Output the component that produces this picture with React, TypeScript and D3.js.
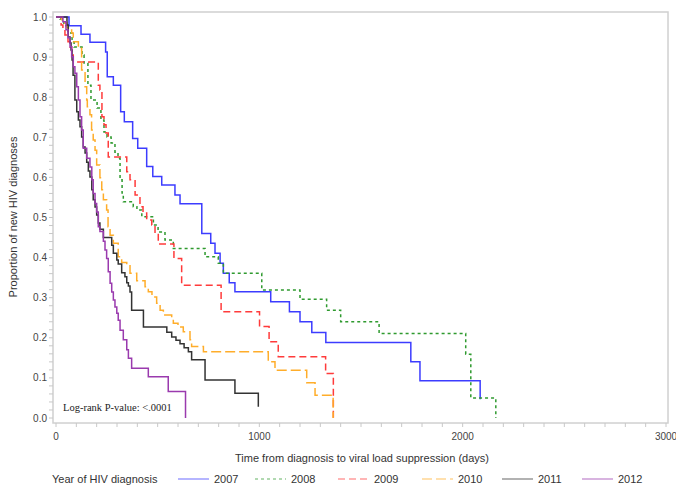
import React from 'react';
import * as d3 from 'd3';

// Kaplan-Meier steps: [days, proportion remaining after the step]
const km2007: [number, number][] = [
  [0, 1], [64, 0.978], [123, 0.957], [167, 0.937], [244, 0.913], [252, 0.851], [282, 0.83],
  [318, 0.764], [336, 0.739], [377, 0.697], [402, 0.673], [446, 0.627], [476, 0.602],
  [520, 0.581], [585, 0.556], [610, 0.534], [717, 0.46], [761, 0.436], [782, 0.411],
  [807, 0.386], [823, 0.361], [852, 0.337], [880, 0.315], [1056, 0.29], [1148, 0.265],
  [1200, 0.24], [1258, 0.213], [1327, 0.188], [1745, 0.14], [1790, 0.093], [2086, 0.047],
];
const km2008: [number, number][] = [
  [0, 1], [20, 0.995], [39, 0.978], [59, 0.96], [79, 0.938], [89, 0.925], [128, 0.905],
  [138, 0.885], [157, 0.83], [172, 0.793], [202, 0.773], [221, 0.743], [236, 0.713],
  [251, 0.701], [271, 0.686], [290, 0.663], [305, 0.648], [315, 0.594], [325, 0.561],
  [331, 0.539], [380, 0.527], [398, 0.519], [422, 0.502], [479, 0.481], [502, 0.464],
  [536, 0.444], [577, 0.423], [733, 0.402], [798, 0.386], [823, 0.361], [1012, 0.319],
  [1200, 0.296], [1331, 0.269], [1400, 0.24], [1589, 0.211], [2015, 0.159], [2040, 0.05],
  [2163, 0],
];
const km2009: [number, number][] = [
  [0, 1], [25, 0.98], [34, 0.968], [44, 0.955], [59, 0.938], [69, 0.925], [77, 0.905],
  [85, 0.888], [208, 0.83], [216, 0.818], [226, 0.751], [236, 0.731], [246, 0.711],
  [257, 0.651], [348, 0.614], [364, 0.594], [389, 0.556], [413, 0.527], [428, 0.511],
  [446, 0.494], [471, 0.481], [487, 0.46], [503, 0.434], [580, 0.398], [618, 0.331],
  [812, 0.265], [1001, 0.228], [1048, 0.19], [1093, 0.153], [1326, 0.111], [1364, 0],
];
const km2010: [number, number][] = [
  [0, 1], [28, 0.993], [36, 0.985], [54, 0.973], [77, 0.96], [85, 0.938], [110, 0.922],
  [126, 0.868], [143, 0.826], [151, 0.793], [154, 0.776], [167, 0.756], [175, 0.718],
  [183, 0.693], [192, 0.668], [200, 0.631], [216, 0.599], [225, 0.569], [233, 0.544],
  [249, 0.519], [256, 0.477], [266, 0.456], [282, 0.436], [306, 0.402], [323, 0.388],
  [348, 0.382], [364, 0.361], [397, 0.342], [438, 0.327], [454, 0.315], [472, 0.302],
  [495, 0.286], [512, 0.269], [528, 0.257], [569, 0.247], [577, 0.236], [600, 0.227],
  [626, 0.215], [659, 0.195], [667, 0.178], [725, 0.165], [1044, 0.14], [1077, 0.119],
  [1233, 0.088], [1274, 0.057], [1363, 0],
];
const km2011: [number, number][] = [
  [0, 1], [54, 0.98], [60, 0.95], [69, 0.935], [74, 0.918], [79, 0.893], [84, 0.855],
  [93, 0.793], [102, 0.764], [110, 0.743], [118, 0.726], [126, 0.701], [134, 0.676],
  [143, 0.661], [151, 0.638], [159, 0.616], [167, 0.601], [176, 0.569], [183, 0.544],
  [192, 0.526], [200, 0.506], [208, 0.486], [216, 0.471], [233, 0.45], [274, 0.431],
  [282, 0.411], [299, 0.394], [306, 0.384], [323, 0.362], [339, 0.352], [348, 0.337],
  [356, 0.329], [364, 0.314], [372, 0.269], [430, 0.227], [545, 0.214], [569, 0.202],
  [590, 0.194], [610, 0.185], [630, 0.175], [651, 0.165], [667, 0.145], [733, 0.095],
  [880, 0.062], [995, 0.028],
];
const km2012: [number, number][] = [
  [0, 1], [34, 0.988], [49, 0.968], [59, 0.948], [69, 0.926], [77, 0.901], [85, 0.876],
  [93, 0.86], [102, 0.826], [110, 0.793], [118, 0.751], [126, 0.718], [134, 0.673],
  [151, 0.648], [167, 0.626], [176, 0.594], [183, 0.56], [192, 0.535], [200, 0.514],
  [208, 0.477], [216, 0.465], [233, 0.441], [241, 0.419], [249, 0.398], [257, 0.365],
  [266, 0.336], [274, 0.314], [282, 0.294], [290, 0.277], [299, 0.261], [306, 0.244],
  [315, 0.219], [331, 0.195], [348, 0.17], [356, 0.149], [372, 0.124], [454, 0.103],
  [552, 0.066], [637, 0],
];

const years = ['2007', '2008', '2009', '2010', '2011', '2012'];
const curves = [km2007, km2008, km2009, km2010, km2011, km2012];
const colors = ['#3c3cff', '#2f9a2f', '#ff3b3b', '#ffad2a', '#333333', '#9a3aae'];
const dashes = [null, '3 3', '7 4', '10 4', null, null];

const xMajor = [0, 1000, 2000, 3000];
const yMajor = [0, 0.1, 0.2, 0.3, 0.4, 0.5, 0.6, 0.7, 0.8, 0.9, 1.0];

const font = '"Liberation Sans", Arial, sans-serif';

export default function App() {
  const width = 676;
  const height = 489;
  const frame = { left: 53, top: 12, right: 668, bottom: 423 };

  const x = d3.scaleLinear().domain([0, 3000]).range([56, 666]);
  const y = d3.scaleLinear().domain([0, 1]).range([418, 17]);

  const line = d3
    .line<[number, number]>()
    .x((d) => x(d[0]))
    .y((d) => y(d[1]))
    .curve(d3.curveStepAfter);

  const xMinor = d3.range(0, 3001, 100);
  const yMinor = d3.range(0, 51).map((i) => i * 0.02);

  const legendX = [178, 255, 338, 422, 502, 582];

  return (
    <svg
      width={width}
      height={height}
      style={{ position: 'absolute', left: 0, top: 0, background: '#fff' }}
      fontFamily={font}
    >
      {/* plot frame */}
      <rect
        x={frame.left}
        y={frame.top}
        width={frame.right - frame.left}
        height={frame.bottom - frame.top}
        fill="none"
        stroke="#d0d0d0"
        strokeWidth={1.5}
      />

      {/* y axis ticks + labels */}
      {yMinor.map((v, i) => (
        <line key={'ym' + i} x1={frame.left - 4} x2={frame.left} y1={y(v)} y2={y(v)} stroke="#c8c8c8" />
      ))}
      {yMajor.map((v) => (
        <text key={'yl' + v} x={frame.left - 6} y={y(v) + 3.5} textAnchor="end" fontSize={10} fill="#444">
          {v.toFixed(1)}
        </text>
      ))}

      {/* x axis ticks + labels */}
      {xMinor.map((v) => (
        <line key={'xm' + v} x1={x(v)} x2={x(v)} y1={frame.bottom} y2={frame.bottom + 4} stroke="#c8c8c8" />
      ))}
      {xMajor.map((v) => (
        <text key={'xl' + v} x={x(v)} y={frame.bottom + 17} textAnchor="middle" fontSize={10} fill="#444">
          {v}
        </text>
      ))}

      {/* axis titles */}
      <text
        transform={`translate(17,217) rotate(-90)`}
        textAnchor="middle"
        fontSize={11}
        fill="#333"
      >
        Proportion of new HIV diagnoses
      </text>
      <text x={362} y={462} textAnchor="middle" fontSize={11} fill="#333">
        Time from diagnosis to viral load suppression (days)
      </text>

      {/* survival curves */}
      {curves.map((c, i) => (
        <path
          key={years[i]}
          d={line(c) || ''}
          fill="none"
          stroke={colors[i]}
          strokeWidth={1.5}
          strokeDasharray={dashes[i] || undefined}
        />
      ))}

      <text x={63} y={411} fontSize={10.5} fontFamily='"Liberation Serif", "Times New Roman", serif' fill="#222">
        Log-rank P-value: &lt;.0001
      </text>

      {/* legend */}
      <text x={52} y={483} fontSize={11} fill="#333">
        Year of HIV diagnosis
      </text>
      {years.map((yr, i) => (
        <g key={'lg' + yr}>
          <line
            x1={legendX[i]}
            x2={legendX[i] + 31}
            y1={479}
            y2={479}
            stroke={colors[i]}
            strokeOpacity={0.5}
            strokeWidth={1.5}
            strokeDasharray={dashes[i] || undefined}
          />
          <text x={legendX[i] + 36} y={483} fontSize={11} fill="#333">
            {yr}
          </text>
        </g>
      ))}
    </svg>
  );
}
